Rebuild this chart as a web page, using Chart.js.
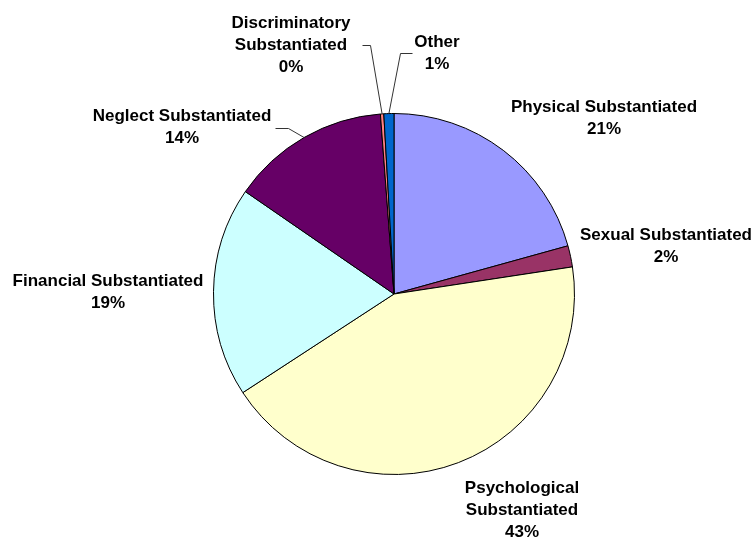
<!DOCTYPE html>
<html>
<head>
<meta charset="utf-8">
<script src="https://cdn.jsdelivr.net/npm/chart.js@4/dist/chart.umd.min.js"></script>
<style>
  html, body { margin: 0; padding: 0; background: #fff; }
  canvas { display: block; }
</style>
</head>
<body>
<canvas id="chart" width="756" height="537"></canvas>
<script>
const categories = [
  "Physical Substantiated",
  "Sexual Substantiated",
  "Psychological Substantiated",
  "Financial Substantiated",
  "Neglect Substantiated",
  "Discriminatory Substantiated",
  "Other"
];
const shares = [20.7, 1.9, 43.2, 18.8, 14.2, 0.3, 0.9];
const sliceColors = ["#9999FF", "#993366", "#FFFFCC", "#CCFFFF", "#660066", "#FF8080", "#0066CC"];

// label text lines, split the way the picture wraps them
const labelLines = [
  ["Physical Substantiated"],
  ["Sexual Substantiated"],
  ["Psychological", "Substantiated"],
  ["Financial Substantiated"],
  ["Neglect Substantiated"],
  ["Discriminatory", "Substantiated"],
  ["Other"]
];

// where each label block sits, relative to the pie centre (layout only)
const labelLayout = [
  { dx: 210, dy: -176 },
  { dx: 272, dy: -48 },
  { dx: 128, dy: 216 },
  { dx: -286, dy: -2 },
  { dx: -212, dy: -167, leader: [[-119, -166], [-106, -166]] },
  { dx: -103, dy: -249, leader: [[-32, -249], [-24, -249]] },
  { dx: 43, dy: -241, leader: [[18, -241], [6, -241]] }
];

const outsideLabels = {
  id: "outsideLabels",
  afterDatasetsDraw(chart) {
    const ctx = chart.ctx;
    const meta = chart.getDatasetMeta(0);
    const total = shares.reduce((a, b) => a + b, 0);
    const lineH = 22;

    ctx.save();
    meta.data.forEach((arc, i) => {
      const cx = arc.x;
      const cy = arc.y;
      const lay = labelLayout[i];

      if (lay.leader) {
        const mid = (arc.startAngle + arc.endAngle) / 2;
        const ex = cx + Math.cos(mid) * arc.outerRadius;
        const ey = cy + Math.sin(mid) * arc.outerRadius;
        ctx.strokeStyle = "#333";
        ctx.lineWidth = 1;
        ctx.beginPath();
        ctx.moveTo(cx + lay.leader[0][0] + 0.5, cy + lay.leader[0][1] + 0.5);
        ctx.lineTo(cx + lay.leader[1][0] + 0.5, cy + lay.leader[1][1] + 0.5);
        ctx.lineTo(ex, ey);
        ctx.stroke();
      }

      const pct = Math.round(shares[i] / total * 100) + "%";
      const lines = labelLines[i].concat([pct]);
      const top = cy + lay.dy - (lines.length - 1) * lineH / 2;

      ctx.fillStyle = "#000";
      ctx.font = "bold 17px Arial, 'Liberation Sans', sans-serif";
      ctx.textAlign = "center";
      ctx.textBaseline = "middle";
      lines.forEach((t, k) => {
        ctx.fillText(t, cx + lay.dx, top + k * lineH);
      });
    });
    ctx.restore();
  }
};

new Chart(document.getElementById("chart"), {
  type: "pie",
  data: {
    labels: categories,
    datasets: [{
      data: shares,
      backgroundColor: sliceColors,
      borderColor: "#000",
      borderWidth: 1
    }]
  },
  options: {
    responsive: false,
    animation: false,
    devicePixelRatio: 1,
    layout: {
      padding: { top: 113, bottom: 62, left: 213, right: 181 }
    },
    plugins: {
      legend: { display: false },
      tooltip: { enabled: false }
    }
  },
  plugins: [outsideLabels]
});
</script>
</body>
</html>
